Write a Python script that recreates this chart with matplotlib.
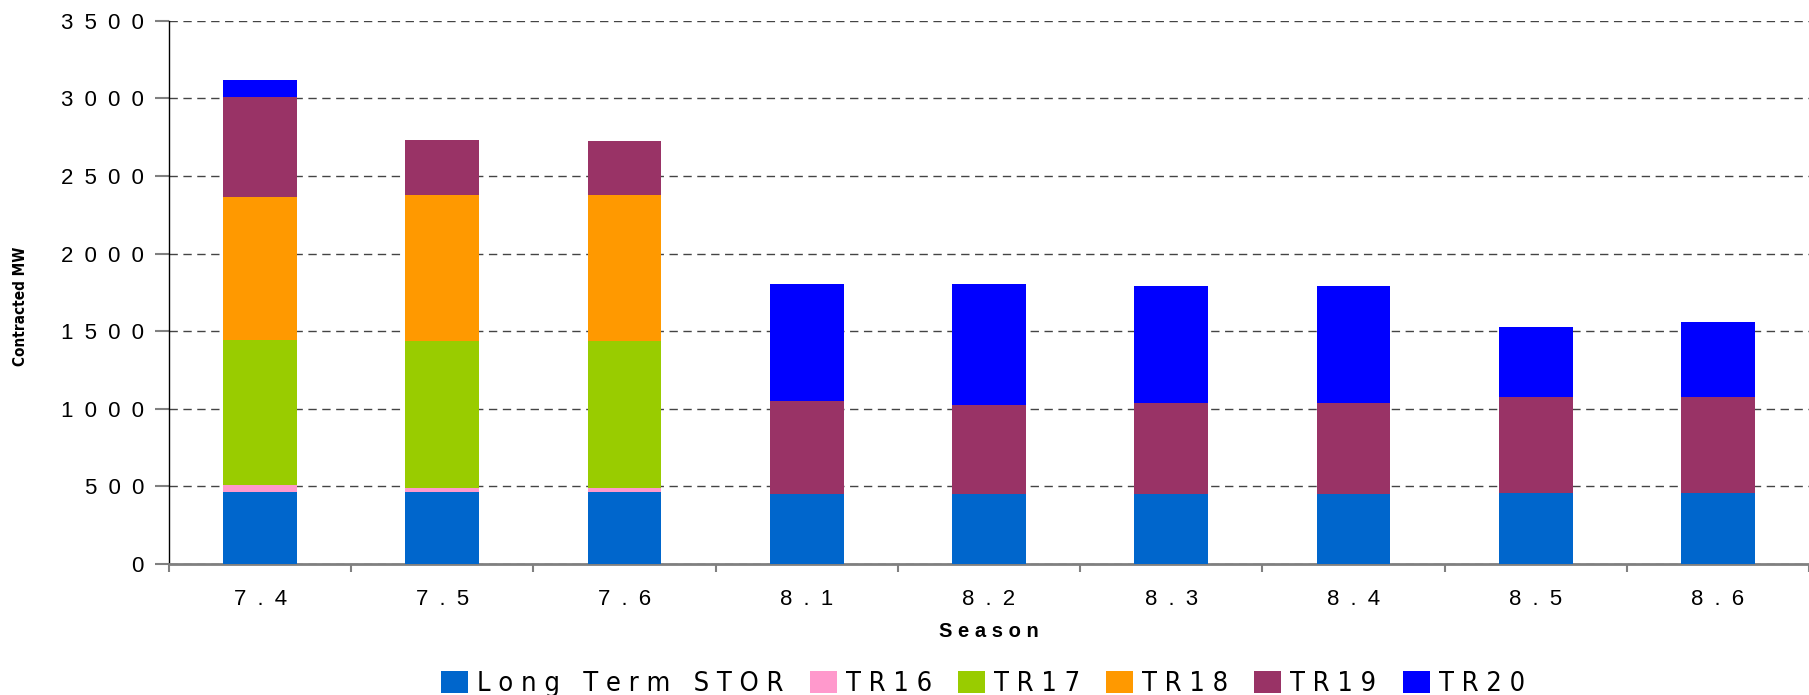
import numpy as np
import matplotlib
matplotlib.use("Agg")
import matplotlib.pyplot as plt
from matplotlib.patches import Patch
from matplotlib import font_manager

seasons = ["7.4", "7.5", "7.6", "8.1", "8.2", "8.3", "8.4", "8.5", "8.6"]
long_term_stor = [461, 461, 461, 452, 452, 452, 452, 457, 457]
tr16 = [45, 26, 26, 0, 0, 0, 0, 0, 0]
tr17 = [940, 951, 951, 0, 0, 0, 0, 0, 0]
tr18 = [921, 942, 942, 0, 0, 0, 0, 0, 0]
tr19 = [644, 354, 347, 598, 573, 585, 585, 619, 619]
tr20 = [109, 0, 0, 753, 778, 753, 753, 450, 482]

series = [
    ("Long Term STOR", long_term_stor, "#0066CC"),
    ("TR16", tr16, "#FF99CC"),
    ("TR17", tr17, "#99CC00"),
    ("TR18", tr18, "#FF9900"),
    ("TR19", tr19, "#993366"),
    ("TR20", tr20, "#0000FF"),
]
yticks = [0, 500, 1000, 1500, 2000, 2500, 3000, 3500]


def spaced(s, sep="\u2002"):
    # old excel style letter spacing
    return sep.join(s)


def find_narrow(bold=False):
    # look for an arial-narrow like face, fall back to plain Liberation Sans
    best = None
    for f in font_manager.fontManager.ttflist:
        narrowish = ('Narrow' in f.name or 'Condensed' in f.name
                     or f.stretch in ('condensed', 'semi-condensed', 'extra-condensed')
                     or (isinstance(f.stretch, int) and f.stretch < 500))
        if not narrowish or f.style != 'normal':
            continue
        w = f.weight if isinstance(f.weight, int) else (700 if f.weight == 'bold' else 400)
        if (w >= 600) != bold:
            continue
        rank = 0 if 'Liberation' in f.name or 'Arial' in f.name else (1 if 'Sans' in f.name else 2)
        if best is None or rank < best[0]:
            best = (rank, f.fname)
    return best[1] if best else None


narrow_reg = find_narrow(False)
narrow_bold = find_narrow(True)

plt.rcParams['font.family'] = ['Liberation Sans', 'DejaVu Sans']

fig = plt.figure(figsize=(18.09, 6.95), dpi=100)
ax = fig.add_axes([0.0934, 0.1885, 0.9066, 0.7815])

x = np.arange(len(seasons))
bottom = np.zeros(len(seasons))
for name, vals, col in series:
    vals = np.array(vals, dtype=float)
    ax.bar(x, vals, width=0.405, bottom=bottom, color=col, linewidth=0, zorder=3)
    bottom += vals

ax.set_xlim(-0.5, len(seasons) - 0.5)
ax.set_ylim(0, 3500)
ax.set_yticks(yticks)
ax.set_yticklabels([spaced(str(v)) for v in yticks], fontsize=16)
ax.set_xticks(x)
ax.set_xticklabels([spaced(s) for s in seasons], fontsize=16)
ax.set_xticks(np.arange(len(seasons) + 1) - 0.5, minor=True)
ax.tick_params(axis='x', which='major', length=0, pad=18)
ax.tick_params(axis='x', which='minor', length=6, color='#808080', width=1.5)
ax.tick_params(axis='y', length=10, color='#808080', width=1.5, pad=8)

ax.yaxis.grid(True, linestyle=(0, (6, 4)), color='#444444', linewidth=1, zorder=0)
for s in ['top', 'right']:
    ax.spines[s].set_visible(False)
ax.spines['left'].set_color('black')
ax.spines['left'].set_linewidth(1)
ax.spines['bottom'].set_color('#808080')
ax.spines['bottom'].set_linewidth(2)

if narrow_bold:
    ylab_font = font_manager.FontProperties(fname=narrow_bold, size=11)
else:
    ylab_font = font_manager.FontProperties(family='Liberation Sans', weight='bold', size=11.5)
ax.set_ylabel("Contracted MW", fontproperties=ylab_font)
ax.yaxis.set_label_coords(-0.086, 0.475)
ax.set_xlabel(spaced("Season", " "), fontsize=14.5, fontweight='bold', labelpad=9)

if narrow_reg:
    leg_font = font_manager.FontProperties(fname=narrow_reg, size=19.5)
else:
    leg_font = font_manager.FontProperties(family='Liberation Sans', size=17.5)
px = leg_font.get_size_in_points() * 100 / 72

handles = [Patch(facecolor=c, edgecolor='none') for _, _, c in series]
labels = ["L o n g   T e r m   S T O R", "T R 1 6", "T R 1 7",
          "T R 1 8", "T R 1 9", "T R 2 0"]
fig.legend(handles, labels, loc='center', bbox_to_anchor=(0.5434, 0.016),
           ncol=6, frameon=False, handlelength=27 / px, handleheight=24 / px,
           handletextpad=9 / px, columnspacing=26 / px, borderpad=0,
           prop=leg_font)

fig.savefig("out.png", dpi=100)
